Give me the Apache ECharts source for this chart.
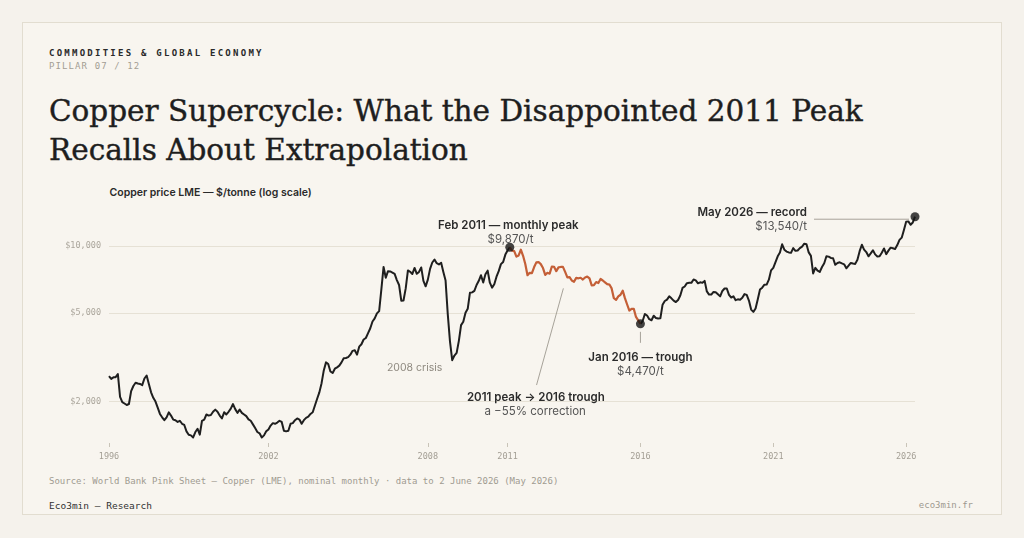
<!DOCTYPE html>
<html>
<head>
<meta charset="utf-8">
<script src="https://cdn.jsdelivr.net/npm/echarts@6/dist/echarts.min.js"></script>
<style>
  html, body { margin: 0; padding: 0; background: #f5f2ec; }
  #page { position: relative; width: 1024px; height: 538px; overflow: hidden; }
  .card { position: absolute; left: 22px; top: 22px; width: 978px; height: 491px; border: 1px solid #e2ddd0; background: #f8f5ef; }
  .t { position: absolute; white-space: nowrap; }
  #kicker { left: 49px; top: 48.7px; font: bold 9px/9px 'DejaVu Sans Mono', monospace; letter-spacing: 2.25px; color: #2a2a2a; }
  #pillar { left: 49px; top: 61.7px; font: 9px/9px 'DejaVu Sans Mono', monospace; letter-spacing: 1.1px; color: #a39e94; }
  #title { left: 49px; top: 92.3px; font: 29.5px/39px 'DejaVu Serif', serif; color: #1e1e1e; -webkit-text-stroke: 0.4px #1e1e1e; }
  #subtitle { left: 109.5px; top: 187.6px; font: 600 10.5px/10.5px 'Inter', sans-serif; color: #2a2a2a; }
  #source { left: 49px; top: 477.4px; font: 9px/9px 'DejaVu Sans Mono', monospace; color: #a09b91; }
  #brand { left: 49px; top: 501px; font: 9.5px/9.5px 'DejaVu Sans Mono', monospace; color: #333; }
  #site { right: 51px; top: 501.4px; font: 9px/9px 'DejaVu Sans Mono', monospace; color: #9e998f; }
  #chart { position: absolute; left: 0; top: 0; width: 1024px; height: 538px; }
</style>
</head>
<body>
<div id="page">
  <div class="card"></div>
  <div class="t" id="kicker">COMMODITIES &amp; GLOBAL ECONOMY</div>
  <div class="t" id="pillar">PILLAR 07 / 12</div>
  <div class="t" id="title">Copper Supercycle: What the Disappointed 2011 Peak<br>Recalls About Extrapolation</div>
  <div class="t" id="subtitle">Copper price LME — $/tonne (log scale)</div>
  <div class="t" id="source">Source: World Bank Pink Sheet — Copper (LME), nominal monthly · data to 2 June 2026 (May 2026)</div>
  <div class="t" id="brand">Eco3min — Research</div>
  <div class="t" id="site">eco3min.fr</div>
  <div id="chart"></div>
</div>
<script>
// monthly LME copper, $/t, Jan 1996 .. May 2026
const startYear = 1996;
const monthlyPrice = [
  2605, 2530, 2570, 2575, 2660, 2100, 1990, 1960, 1930, 1950, 2230, 2350, // 1996
  2430, 2410, 2400, 2370, 2540, 2620, 2400, 2200, 2080, 2000, 1880, 1760, // 1997
  1700, 1650, 1700, 1790, 1730, 1660, 1650, 1620, 1640, 1590, 1570, 1470, // 1998
  1420, 1410, 1380, 1460, 1510, 1420, 1640, 1660, 1750, 1730, 1740, 1800, // 1999
  1840, 1800, 1730, 1680, 1790, 1750, 1800, 1860, 1950, 1850, 1780, 1840, // 2000
  1780, 1750, 1720, 1665, 1640, 1580, 1520, 1460, 1440, 1380, 1410, 1470, // 2001
  1500, 1560, 1600, 1590, 1610, 1640, 1620, 1480, 1470, 1480, 1590, 1600, // 2002
  1650, 1680, 1660, 1590, 1650, 1690, 1710, 1760, 1790, 1920, 2060, 2200, // 2003
  2420, 2760, 3000, 2950, 2730, 2690, 2810, 2850, 2900, 3000, 3130, 3140, // 2004
  3170, 3250, 3380, 3400, 3250, 3530, 3620, 3800, 3860, 4060, 4270, 4580, // 2005
  4730, 4980, 5100, 6380, 8050, 7200, 7710, 7690, 7600, 7500, 7030, 6680, // 2006
  5680, 5690, 6450, 7770, 7660, 7490, 7970, 7500, 7650, 8010, 6970, 6590, // 2007
  7060, 7890, 8430, 8690, 8370, 8260, 8410, 7640, 6990, 4930, 3720, 3070, // 2008
  3220, 3310, 3750, 4410, 4570, 5010, 5220, 6160, 6190, 6290, 6680, 6980, // 2009
  7390, 6850, 7460, 7750, 6840, 6500, 6730, 7280, 7710, 8290, 8480, 9150, // 2010
  9550, 9870, 9530, 9490, 8960, 9070, 9620, 9040, 8300, 7390, 7580, 7560, // 2011
  8040, 8440, 8470, 8290, 7960, 7420, 7580, 7510, 8090, 8060, 7710, 8020, // 2012
  8050, 8060, 7650, 7230, 7250, 7000, 6910, 7190, 7160, 7200, 7070, 7220, // 2013
  7290, 7150, 6650, 6670, 6890, 6820, 7110, 7000, 6870, 6740, 6710, 6450, // 2014
  5830, 5730, 5940, 6040, 6300, 5830, 5460, 5130, 5220, 5220, 4800, 4630, // 2015
  4470, 4600, 4950, 4870, 4690, 4640, 4860, 4750, 4720, 4730, 5450, 5660, // 2016
  5740, 5940, 5820, 5680, 5600, 5720, 5990, 6480, 6580, 6810, 6830, 6830, // 2017
  7070, 7010, 6800, 6870, 6830, 6970, 6250, 6050, 6050, 6220, 6200, 6070, // 2018
  5940, 6280, 6440, 6440, 6030, 5870, 5940, 5710, 5760, 5740, 5860, 6080, // 2019
  6030, 5690, 5180, 5060, 5240, 5760, 6370, 6500, 6700, 6710, 7060, 7770, // 2020
  7970, 8460, 8990, 9340, 10180, 9630, 9440, 9360, 9320, 9780, 9510, 9550, // 2021
  9780, 9940, 10240, 10180, 9360, 9030, 7530, 7980, 7750, 7650, 8050, 8370, // 2022
  8990, 8960, 8840, 8810, 8230, 8390, 8450, 8350, 8270, 7940, 8160, 8390, // 2023
  8340, 8310, 8680, 9480, 10130, 9640, 9390, 8990, 9260, 9560, 9170, 8980, // 2024
  8990, 9330, 9750, 9190, 9530, 9830, 9770, 9700, 10100, 10650, 10900, 11800, // 2025
  12850, 12900, 12450, 12750, 13540 // 2026
];
const xTickYears = [1996, 2002, 2008, 2011, 2016, 2021, 2026];
const yTickValues = [2000, 5000, 10000];
const peak = [2011 + 1 / 12, 9870];
const trough = [2016, 4470];
const record = [2026 + 4 / 12, 13540];
const crisisLow = [2008 + 11 / 12, 3070];
const correctionLeader = [[2013.1, 6450], [2012.09, 2373]];

const INK = '#1f1f1f';
const COPPER = '#c45f37';
const SANS = 'Inter, "Noto Sans", sans-serif';
const MONO = '"DejaVu Sans Mono", monospace';

const points = monthlyPrice.map((v, i) => [startYear + i / 12, v]);
const eps = 1e-6;
const blackData = points.map(p => (p[0] > peak[0] + eps && p[0] < trough[0] - eps) ? [p[0], null] : p);
const copperData = points.filter(p => p[0] >= peak[0] - eps && p[0] <= trough[0] + eps);

const myChart = echarts.init(document.getElementById('chart'), null, { renderer: 'canvas' });
const option = {
  animation: false,
  backgroundColor: 'transparent',
  grid: { left: 109, right: 109, top: 200, bottom: 95, containLabel: false },
  xAxis: {
    type: 'value',
    min: startYear,
    max: record[0],
    axisLine: { show: false },
    splitLine: { show: false },
    axisTick: { show: true, length: 4, lineStyle: { color: '#c9c4b8' }, customValues: xTickYears },
    axisLabel: {
      customValues: xTickYears,
      margin: 9,
      color: '#a39e94',
      fontFamily: MONO,
      fontSize: 8.5,
      formatter: v => String(Math.round(v))
    }
  },
  yAxis: {
    type: 'log',
    logBase: 10,
    min: 1303,
    max: 16094,
    axisLine: { show: false },
    axisTick: { show: false, customValues: yTickValues },
    splitLine: { show: true, lineStyle: { color: '#e6e1d5', width: 1 } },
    axisLabel: {
      customValues: yTickValues,
      margin: 8,
      color: '#aaa59b',
      fontFamily: MONO,
      fontSize: 8.5,
      formatter: v => '$' + Math.round(v).toLocaleString('en-US')
    }
  },
  series: [
    {
      type: 'line', data: blackData, showSymbol: false, symbol: 'none',
      connectNulls: false,
      lineStyle: { color: INK, width: 2, join: 'round' }, z: 3
    },
    {
      type: 'line', data: copperData, showSymbol: false, symbol: 'none',
      lineStyle: { color: COPPER, width: 2.2, join: 'round' }, z: 4
    },
    {
      type: 'scatter', data: [peak, trough, record], symbolSize: 9,
      itemStyle: { color: '#151515' }, z: 6
    }
  ]
};
myChart.setOption(option);

// annotations placed relative to their data anchors
const px = d => myChart.convertToPixel({ xAxisIndex: 0, yAxisIndex: 0 }, d);
const P = px(peak), T = px(trough), R = px(record), C = px(crisisLow);
const L0 = px(correctionLeader[0]), L1 = px(correctionLeader[1]);

function label(text, x, y, opts) {
  return {
    type: 'text', x: x, y: y, z: 10,
    style: Object.assign({
      text: text, fill: '#2b2b2b', font: '600 11.5px ' + SANS,
      align: 'center', verticalAlign: 'middle'
    }, opts || {})
  };
}
function leader(x1, y1, x2, y2) {
  return { type: 'line', z: 5, shape: { x1, y1, x2, y2 }, style: { stroke: '#9d988e', lineWidth: 0.9 } };
}
const valueFont = '400 11.5px ' + SANS;

myChart.setOption({
  graphic: [
    label('Feb 2011 — monthly peak', P[0] - 1.5, P[1] - 22),
    label('$9,870/t', P[0] + 0.7, P[1] - 8, { font: valueFont, fill: '#555' }),

    leader(T[0], T[1] + 8, T[0], T[1] + 19),
    label('Jan 2016 — trough', T[0], T[1] + 34),
    label('$4,470/t', T[0], T[1] + 48, { font: valueFont, fill: '#555' }),

    leader(R[0] - 101, R[1] + 2.5, R[0] - 6, R[1] + 2.5),
    label('May 2026 — record', R[0] - 108, R[1] - 4, { align: 'right' }),
    label('$13,540/t', R[0] - 108, R[1] + 10, { align: 'right', font: valueFont, fill: '#555' }),

    label('2008 crisis', C[0] - 37.6, C[1] + 8, { font: '400 10.5px ' + SANS, fill: '#8f8a80' }),

    leader(L0[0], L0[1], L1[0], L1[1]),
    label('2011 peak → 2016 trough', L1[0] - 0.7, L1[1] + 12),
    label('a −55% correction', L1[0] - 1.4, L1[1] + 26, { font: valueFont, fill: '#555' })
  ]
});

window.addEventListener('resize', () => { myChart.resize(); });
</script>
</body>
</html>
